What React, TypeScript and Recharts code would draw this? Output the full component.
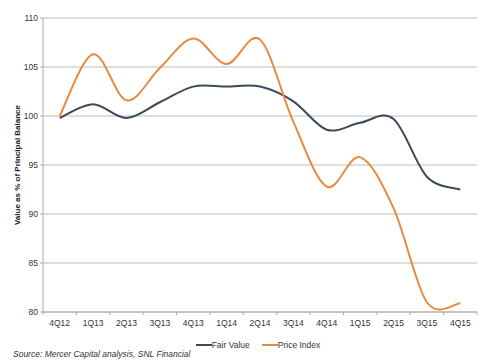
import { LineChart, Line, XAxis, YAxis, CartesianGrid, Legend } from "recharts"

const quarters = ["4Q12", "1Q13", "2Q13", "3Q13", "4Q13", "1Q14", "2Q14", "3Q14", "4Q14", "1Q15", "2Q15", "3Q15", "4Q15"]
const fairValue = [99.8, 101.2, 99.8, 101.4, 103.0, 103.0, 103.0, 101.5, 98.6, 99.3, 99.7, 93.8, 92.5]
const priceIndex = [100.0, 106.3, 101.6, 104.9, 107.9, 105.3, 107.8, 99.4, 92.8, 95.8, 90.6, 81.0, 80.9]
const yTicks = [80, 85, 90, 95, 100, 105, 110]

const data = quarters.map((q, i) => ({ q, fair: fairValue[i], price: priceIndex[i] }))

const FONT = "'Liberation Sans', Arial, sans-serif"
const HALF_BAND = 434 / 13 / 2

// excel-style smoothed line (catmull-rom through the points)
function smoothCurve(context: any) {
  let pts: number[][] = []
  return {
    areaStart() {},
    areaEnd() {},
    lineStart() {
      pts = []
    },
    point(x: number, y: number) {
      pts.push([+x, +y])
    },
    lineEnd() {
      if (!pts.length) return
      context.moveTo(pts[0][0], pts[0][1])
      for (let i = 0; i < pts.length - 1; i++) {
        const p0 = pts[i - 1] || pts[i]
        const p1 = pts[i]
        const p2 = pts[i + 1]
        const p3 = pts[i + 2] || p2
        context.bezierCurveTo(
          p1[0] + (p2[0] - p0[0]) / 6,
          p1[1] + (p2[1] - p0[1]) / 6,
          p2[0] - (p3[0] - p1[0]) / 6,
          p2[1] - (p3[1] - p1[1]) / 6,
          p2[0],
          p2[1]
        )
      }
    },
  }
}

function XTick(props: any) {
  const { x, y, payload, index } = props
  return (
    <g>
      <line x1={x - HALF_BAND} x2={x - HALF_BAND} y1={y - 8} y2={y - 5} stroke="#aaa" />
      {index === quarters.length - 1 && (
        <line x1={x + HALF_BAND} x2={x + HALF_BAND} y1={y - 8} y2={y - 5} stroke="#aaa" />
      )}
      <text x={x} y={y + 6} textAnchor="middle" fontSize={8.5} fill="#333" fontFamily={FONT}>
        {payload.value}
      </text>
    </g>
  )
}

function LegendContent() {
  const items = [
    { label: "Fair Value", color: "#3b4a5c" },
    { label: "Price Index", color: "#ea8a3e" },
  ]
  return (
    <div style={{ display: "flex", justifyContent: "center", gap: 12, fontFamily: FONT, fontSize: 8.5, color: "#333", paddingLeft: 16 }}>
      {items.map((it) => (
        <div key={it.label} style={{ display: "flex", alignItems: "center" }}>
          <span style={{ display: "inline-block", width: 16, height: 2, background: it.color }} />
          <span>{it.label}</span>
        </div>
      ))}
    </div>
  )
}

export default function App() {
  return (
    <div style={{ position: "absolute", left: 0, top: 0, width: 500, height: 363, background: "#fff" }}>
      <LineChart width={500} height={363} data={data} margin={{ top: 18, right: 23, bottom: 31, left: 0 }}>
        <CartesianGrid vertical={false} stroke="#bcbcbc" strokeWidth={1} />
        <XAxis
          dataKey="q"
          scale="band"
          height={20}
          tickLine={false}
          axisLine={{ stroke: "#aaa" }}
          tick={<XTick />}
          interval={0}
        />
        <YAxis
          width={43}
          domain={[80, 110]}
          ticks={yTicks}
          interval={0}
          axisLine={{ stroke: "#aaa" }}
          tickLine={{ stroke: "#aaa" }}
          tickSize={3}
          tick={{ fontSize: 8.5, fill: "#333", fontFamily: FONT }}
          label={(p: any) => {
            const vb = p.viewBox || { x: 0, y: 18, height: 294 }
            const cx = 18
            const cy = vb.y + vb.height / 2
            return (
              <text
                x={cx}
                y={cy}
                transform={`rotate(-90 ${cx} ${cy})`}
                textAnchor="middle"
                dominantBaseline="middle"
                fontSize={8}
                fontWeight="bold"
                fill="#222"
                fontFamily={FONT}
              >
                Value as % of Principal Balance
              </text>
            )
          }}
        />
        <Legend
          layout="horizontal"
          verticalAlign="middle"
          align="center"
          content={<LegendContent />}
          wrapperStyle={{ position: "absolute", top: 340, left: 0, width: 500 }}
        />
        <Line dataKey="fair" name="Fair Value" type={smoothCurve as any} stroke="#3b4a5c" strokeWidth={2} dot={false} isAnimationActive={false} />
        <Line dataKey="price" name="Price Index" type={smoothCurve as any} stroke="#ea8a3e" strokeWidth={2} dot={false} isAnimationActive={false} />
      </LineChart>
      <div
        style={{
          position: "absolute",
          left: 13,
          top: 349,
          fontFamily: FONT,
          fontSize: 8.5,
          fontStyle: "italic",
          color: "#333",
        }}
      >
        Source: Mercer Capital analysis, SNL Financial
      </div>
    </div>
  )
}
